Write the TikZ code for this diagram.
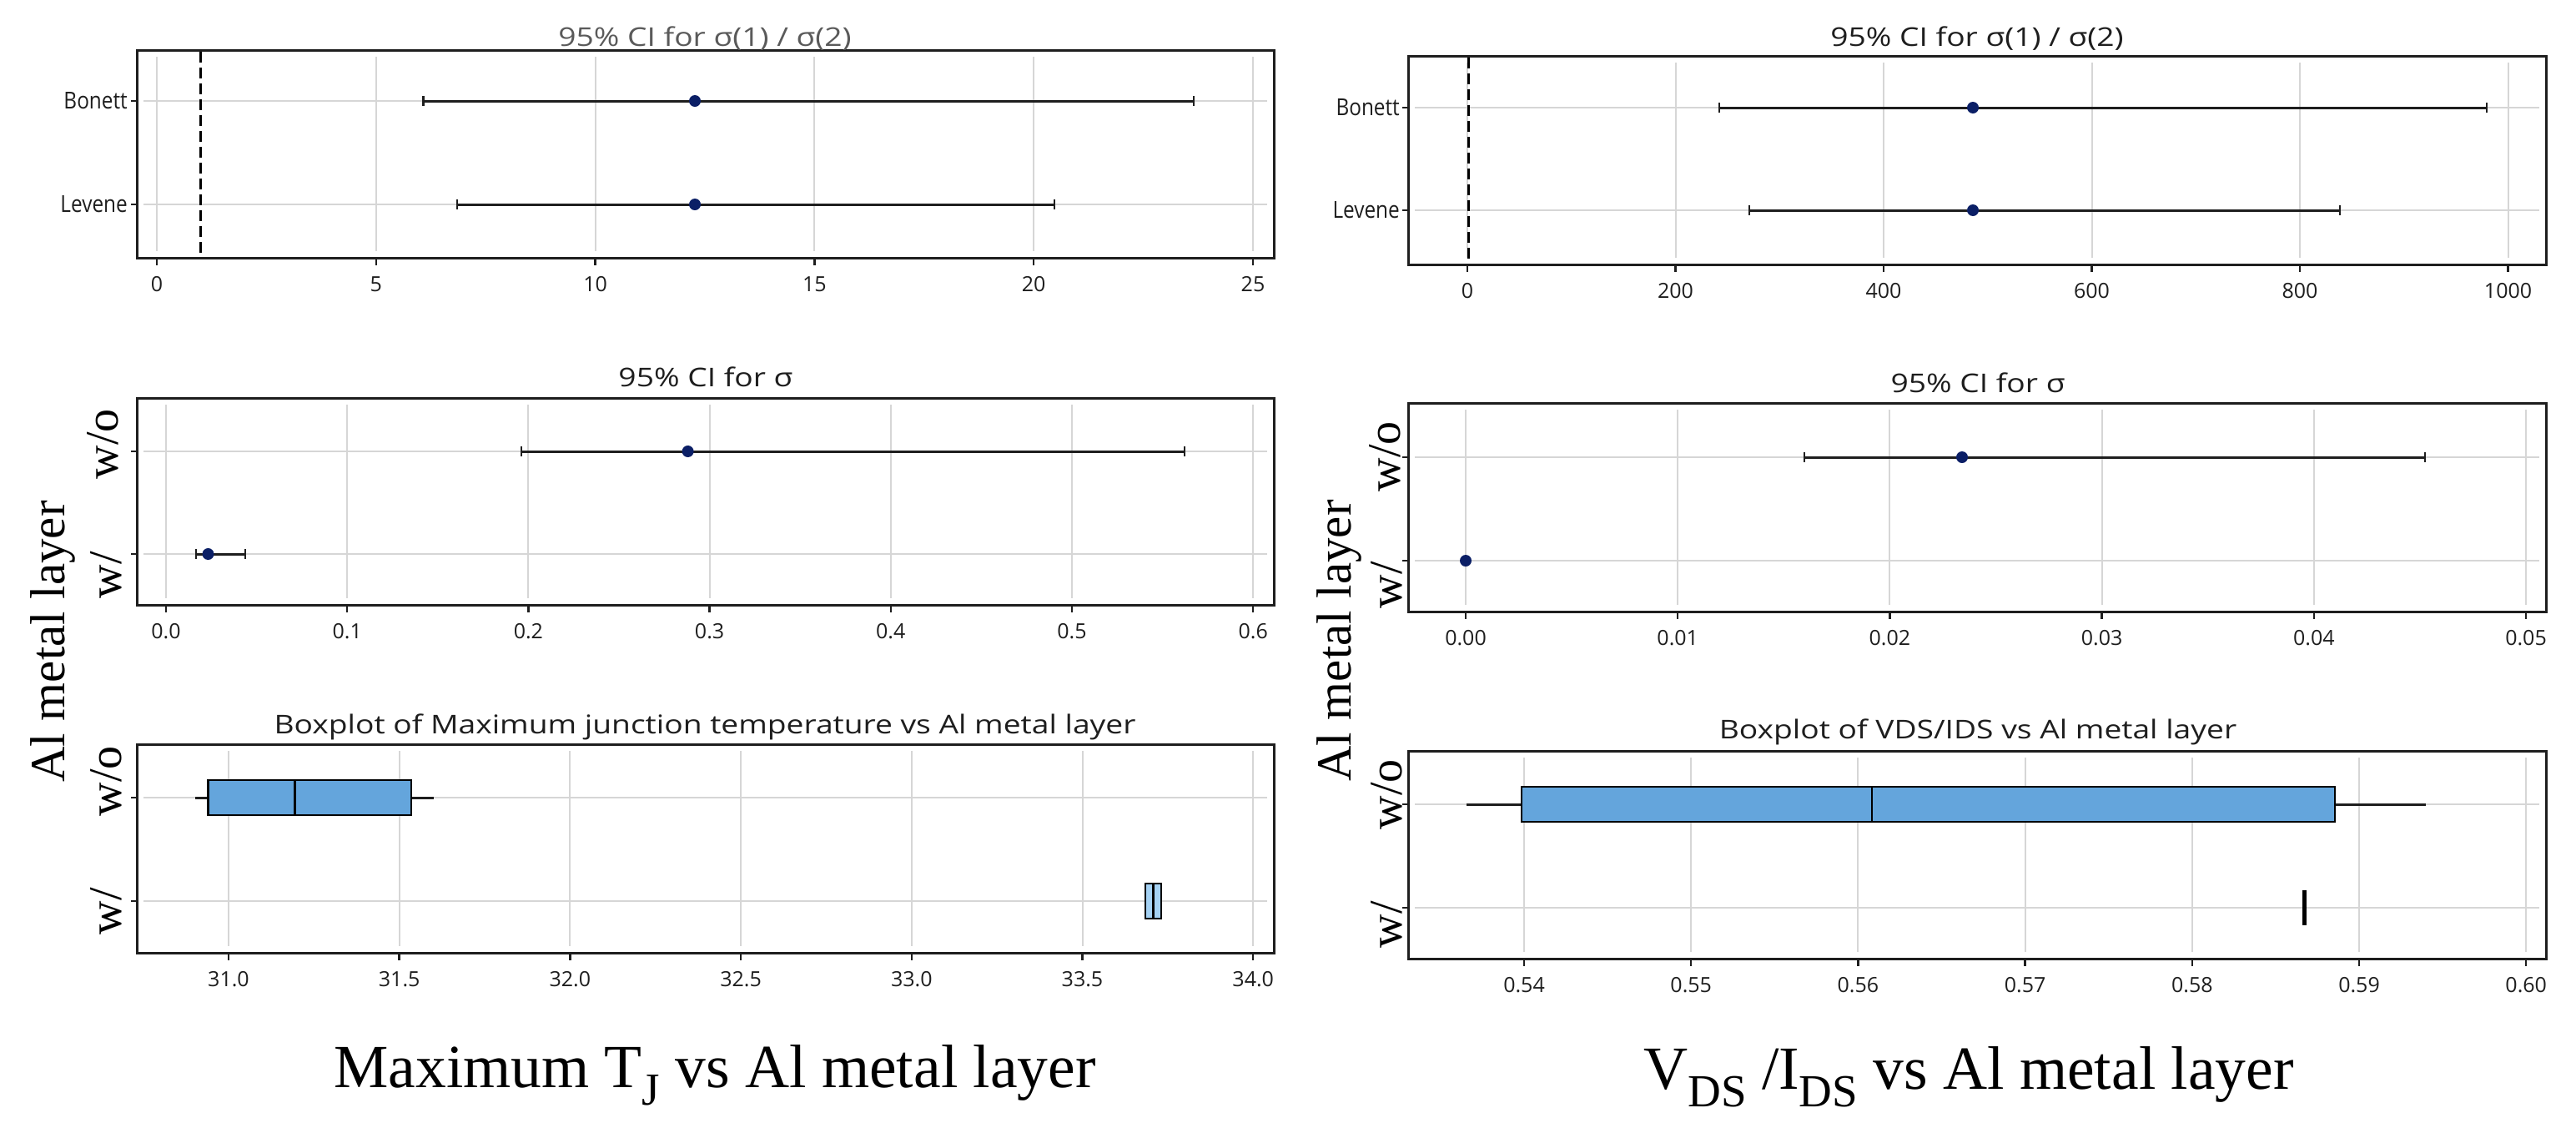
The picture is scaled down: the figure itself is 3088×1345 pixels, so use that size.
\documentclass[tikz,border=0pt]{standalone}
\usepackage{fontspec}
\usepackage{graphicx}
\setmainfont{Liberation Serif}
\newfontfamily\plotfont{Open Sans}
\definecolor{gridc}{HTML}{D6D6D6}
\definecolor{framec}{HTML}{1E1E1E}
\definecolor{dotc}{HTML}{0B1F66}
\definecolor{boxc}{HTML}{64A5DC}
\definecolor{boxl}{HTML}{A5D2F4}
\definecolor{titlegray}{HTML}{5A5A5A}
\tikzset{
 frame/.style={draw=framec, line width=3pt},
 gridline/.style={draw=gridc, line width=2pt},
 tickmark/.style={draw=framec, line width=2.5pt},
 ciline/.style={draw=framec, line width=3pt},
 cicap/.style={draw=framec, line width=2.5pt},
 refline/.style={draw=black, line width=2.5pt, dash pattern=on 13pt off 6pt},
 ticklab/.style={font=\plotfont\fontsize{25}{25}\selectfont, text=framec, inner sep=0pt},
 catlab/.style={font=\plotfont\fontsize{28}{28}\selectfont, text=framec, inner sep=0pt, anchor=east},
 ptitle/.style={font=\plotfont\fontsize{31}{31}\selectfont, text=framec, inner sep=0pt, anchor=base},
 grplab/.style={font=\fontsize{56}{56}\selectfont, rotate=90, anchor=base, inner sep=0pt},
 axlab/.style={font=\fontsize{59}{59}\selectfont, rotate=90, anchor=base west, inner sep=0pt},
 captionlab/.style={font=\fontsize{73.5}{73.5}\selectfont, anchor=base, inner sep=0pt},
 boxw/.style={draw=black, line width=2.5pt, fill=boxc},
 medline/.style={draw=black, line width=2.5pt},
 whisk/.style={draw=framec, line width=3pt},
}
\newcommand\ts[1]{\scalebox{1.2}[1]{#1}}
\newcommand\catx[1]{\scalebox{0.87}[1]{#1}}
\newcommand\subx[1]{\raisebox{-21pt}{\fontsize{55}{55}\selectfont #1}}
% #1 name, #2 x0, #3 dx, #4 ytop, #5 ybot, #6 labels
\newcommand\xaxis[6]{%
 \foreach \lab [count=\i from 0] in {#6} {
   \draw[gridline] ({#2+#3*\i},{#4+8}) -- ({#2+#3*\i},{#5-8});
   \draw[tickmark] ({#2+#3*\i},#5) -- ({#2+#3*\i},{#5+9});
   \node[ticklab] (#1t\i) at ({#2+#3*\i},{#5+32}) {\lab};
 }}
% #1 y, #2 lo, #3 point, #4 hi
\newcommand\ci[4]{%
 \draw[ciline] (#2,#1) -- (#4,#1);
 \draw[cicap] (#2,{#1-6}) -- (#2,{#1+6});
 \draw[cicap] (#4,{#1-6}) -- (#4,{#1+6});
 \fill[dotc] (#3,#1) circle (7pt);
}
\begin{document}
\begin{tikzpicture}[x=1pt,y=-1pt]
\fill[white] (0,0) rectangle (3088,1345);
\useasboundingbox (0,0) rectangle (3088,1345);

% ================= LEFT COLUMN =================
% ---- row 1 ----
\xaxis{la}{188}{262.8}{60}{309}{0,5,10,15,20,25}
\draw[gridline] (172,121) -- (1519,121);
\draw[gridline] (172,245) -- (1519,245);
\draw[refline] (240.6,62) -- (240.6,307);
\ci{121}{507.6}{833}{1431}
\ci{245}{548}{833}{1264}
\draw[tickmark] (157,121) -- (164,121);
\draw[tickmark] (157,245) -- (164,245);
\node[catlab] (laBon) at (153,121) {\catx{Bonett}};
\node[catlab] (laLev) at (153,245) {\catx{Levene}};
\draw[frame] (164,60) rectangle (1527,309);
\node[ptitle, text=titlegray] (laTitle) at (845,55) {\ts{95\% CI for σ(1) / σ(2)}};

% ---- row 2 ----
\xaxis{lb}{199}{217.2}{477}{725}{0.0,0.1,0.2,0.3,0.4,0.5,0.6}
\draw[gridline] (172,541) -- (1519,541);
\draw[gridline] (172,664) -- (1519,664);
\ci{541}{625}{824.6}{1420}
\ci{664}{235}{249.5}{294}
\draw[tickmark] (157,541) -- (164,541);
\draw[tickmark] (157,664) -- (164,664);
\draw[frame] (164,477) rectangle (1527,725);
\node[ptitle] (lbTitle) at (846,463) {\ts{95\% CI for σ}};
\node[grplab] (lbWo) at (141,532) {w/o};
\node[grplab] (lbW) at (145,689) {w/};

% ---- row 3 ----
\xaxis{lc}{274}{204.7}{892}{1142}{31.0,31.5,32.0,32.5,33.0,33.5,34.0}
\draw[gridline] (172,956) -- (1519,956);
\draw[gridline] (172,1080) -- (1519,1080);
\draw[whisk] (234,956) -- (249.5,956);
\draw[whisk] (493,956) -- (520,956);
\draw[boxw] (249.5,935) rectangle (493,977);
\draw[medline] (353.6,935) -- (353.6,977);
\draw[boxw, fill=boxl] (1373,1059) rectangle (1392,1101);
\draw[medline] (1382.5,1059) -- (1382.5,1101);
\draw[tickmark] (157,956) -- (164,956);
\draw[tickmark] (157,1080) -- (164,1080);
\draw[frame] (164,892) rectangle (1527,1142);
\node[ptitle] (lcTitle) at (845,879) {\ts{Boxplot of Maximum junction temperature vs Al metal layer}};
\node[grplab] (lcWo) at (145,936) {w/o};
\node[grplab] (lcW) at (145,1092) {w/};

\node[axlab] (lAx) at (77,938) {Al metal layer};
\node[captionlab] (lCap) at (857,1303) {Maximum T\subx{J} vs Al metal layer};

% ================= RIGHT COLUMN =================
% ---- row 1 ----
\xaxis{ra}{1759}{249.5}{67}{317}{0,200,400,600,800,1000}
\draw[gridline] (1696,129) -- (3044,129);
\draw[gridline] (1696,252) -- (3044,252);
\draw[refline] (1760.5,69) -- (1760.5,315);
\ci{129}{2061}{2365}{2981}
\ci{252}{2097}{2365}{2805}
\draw[tickmark] (1681,129) -- (1688,129);
\draw[tickmark] (1681,252) -- (1688,252);
\node[catlab] (raBon) at (1678,129) {\catx{Bonett}};
\node[catlab] (raLev) at (1678,252) {\catx{Levene}};
\draw[frame] (1688,67) rectangle (3052,317);
\node[ptitle] (raTitle) at (2370,55) {\ts{95\% CI for σ(1) / σ(2)}};

% ---- row 2 ----
\xaxis{rb}{1757}{254.2}{483}{733}{0.00,0.01,0.02,0.03,0.04,0.05}
\draw[gridline] (1696,548) -- (3044,548);
\draw[gridline] (1696,672) -- (3044,672);
\ci{548}{2163}{2352}{2907}
\fill[dotc] (1757,672) circle (7pt);
\draw[tickmark] (1681,548) -- (1688,548);
\draw[tickmark] (1681,672) -- (1688,672);
\draw[frame] (1688,483) rectangle (3052,733);
\node[ptitle] (rbTitle) at (2371,470) {\ts{95\% CI for σ}};
\node[grplab] (rbWo) at (1678,547) {w/o};
\node[grplab] (rbW) at (1680,701) {w/};

% ---- row 3 ----
\xaxis{rc}{1827}{200.2}{900}{1149}{0.54,0.55,0.56,0.57,0.58,0.59,0.60}
\draw[gridline] (1696,964) -- (3044,964);
\draw[gridline] (1696,1088) -- (3044,1088);
\draw[whisk] (1758,964) -- (1824,964);
\draw[whisk] (2799,964) -- (2908,964);
\draw[boxw] (1824,943) rectangle (2799,985);
\draw[medline] (2244,943) -- (2244,985);
\draw[draw=black, line width=5pt] (2762,1067) -- (2762,1109);
\draw[tickmark] (1681,964) -- (1688,964);
\draw[tickmark] (1681,1088) -- (1688,1088);
\draw[frame] (1688,900) rectangle (3052,1149);
\node[ptitle] (rcTitle) at (2371,885) {\ts{Boxplot of VDS/IDS vs Al metal layer}};
\node[grplab] (rcWo) at (1680,952) {w/o};
\node[grplab] (rcW) at (1680,1108) {w/};

\node[axlab] (rAx) at (1619,937) {Al metal layer};
\node[captionlab] (rCap) at (2360,1305) {V\subx{DS} /I\subx{DS} vs Al metal layer};
\end{tikzpicture}
\end{document}
